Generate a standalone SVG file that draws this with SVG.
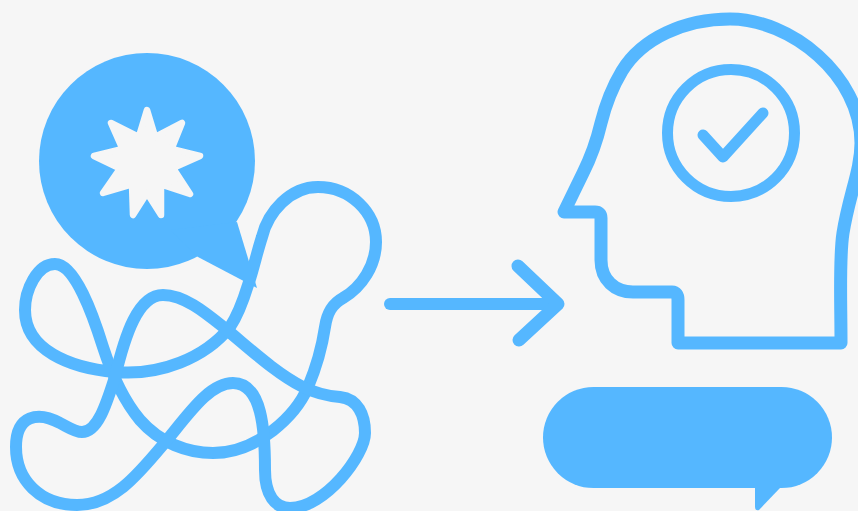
<svg xmlns="http://www.w3.org/2000/svg" width="858" height="511" viewBox="0 0 858 511">
<style>
.l{fill:none;stroke:#55b7ff;stroke-linecap:round;stroke-linejoin:round}
.f{fill:#55b7ff}
</style>
<rect width="858" height="511" fill="#f6f6f6"/>
<g id="scribble">
<path class="l" stroke-width="12" d="M248 285C253 271 257 252 262 237C268 212 290 187 318 187C350 187 376 212 376 242C376 265 362 287 343 298C332 304 327 313 325 327C322 347 316 368 308 387C296 415 258 453 213 453C188 453 160 443 140 420C125 402 112 375 103 347C93 315 75 264 55 264C37 264 25 290 25 310C25 350 70 368 115 372C160 376 205 358 230 327C238 315 244 298 248 285"/>
<path class="l" stroke-width="12" d="M227 330C250 349 277 374 303 387C315 393 328 396 340 397C358 399 365 415 365 433C365 455 325 508 290 508C275 508 265 495 265 470C265 430 262 383 233 383C210 383 190 412 167 440C140 472 115 505 77 505C40 505 16 480 16 447C16 415 38 411 60 423C68 427 75 432 82 432C98 432 107 402 115 377C125 335 138 295 163 295C185 295 207 314 227 330"/>
</g>
<g id="bubble">
<circle class="f" cx="147" cy="161" r="108"/>
<path class="f" d="M237 222L257 288L198 257L170 230Z"/>
<polygon points="147,110 155.200,137 182,123 171.500,149 200,156 173,168 190,194 161,184.500 161,215 147,193 133,215 132,184.500 103,193 120,168.500 94,156 122.500,149 111,123 138.800,137" fill="#f6f6f6" stroke="#f6f6f6" stroke-width="6.500" stroke-linejoin="round"/>
</g>
<g id="arrow">
<path class="l" stroke-width="12" d="M390 304H556"/>
<path class="l" stroke-width="13" d="M518 266L558 304L519 340"/>
</g>
<g id="head">
<path class="l" stroke-width="13" d="M564 212L583 173C592 155 597 140 601 123C606 103 613 86 622 71C642 38 685 19 730 19C790 19 861 75 861 143C861 170 849 195 843 233C839 258 841 300 841 343H678V300C678 295 676 292 672 292H633C615 292 601 280 601 260V218C601 214 599 212 595 212Z"/>
<circle class="l" stroke-width="11" cx="731" cy="133" r="63.500"/>
<path class="l" stroke-width="11" d="M703 135L723 157L763 113"/>
</g>
<g id="speech">
<rect class="f" x="543" y="387" width="289" height="101" rx="50.500"/>
<path class="f" d="M755 480V507Q755 511 759 510L780 488V480Z"/>
</g>
</svg>
